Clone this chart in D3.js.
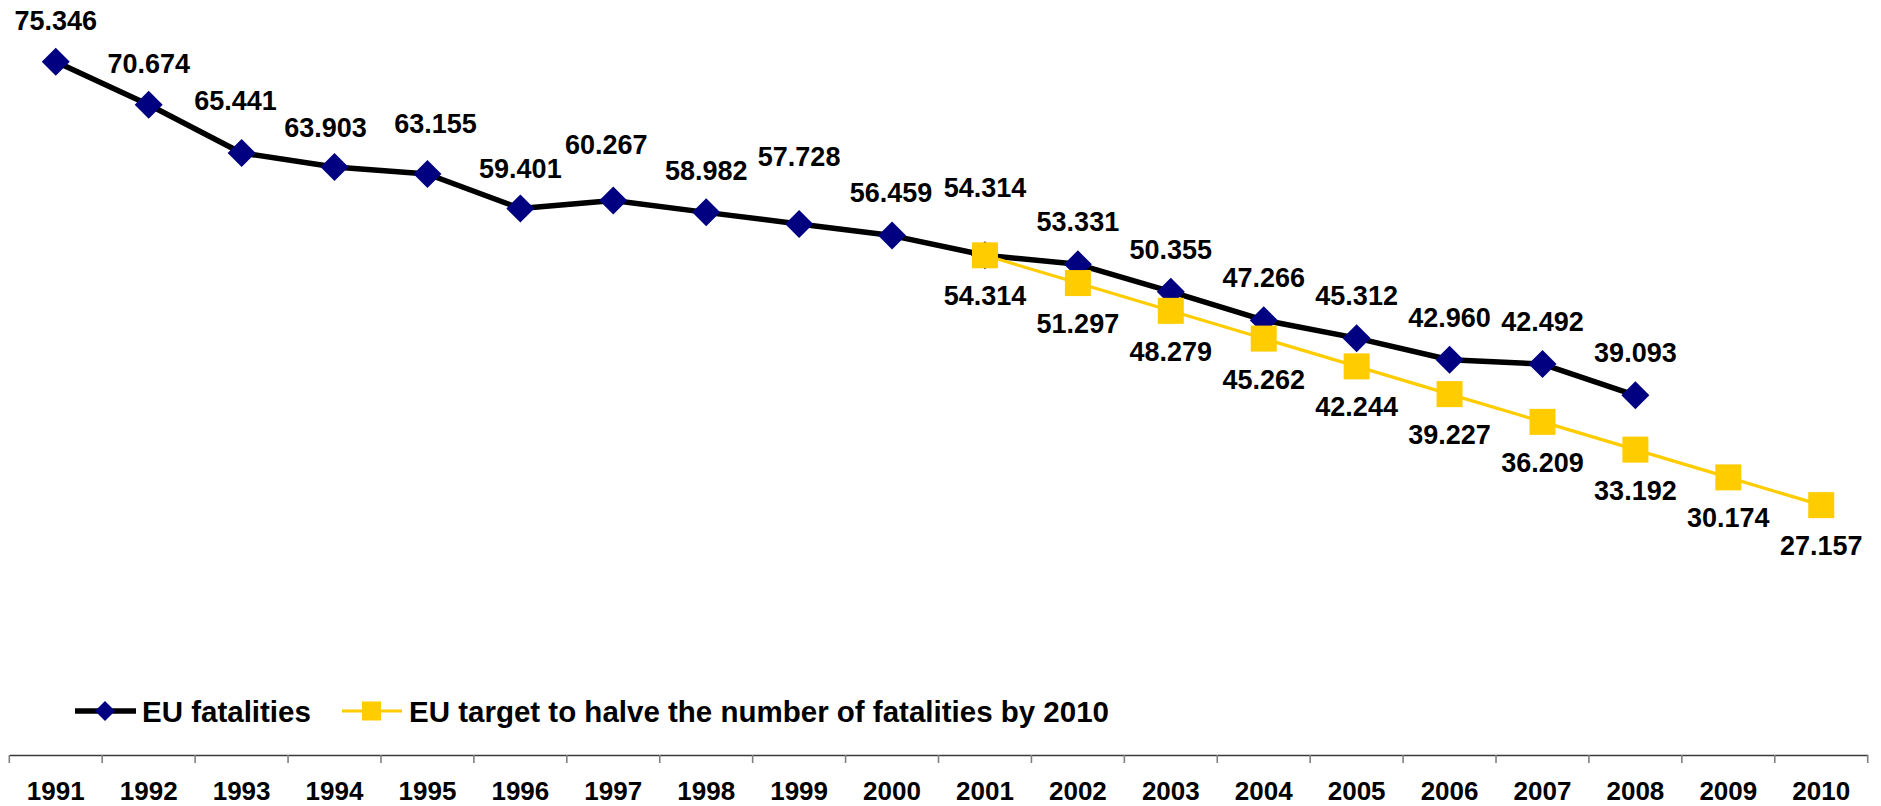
<!DOCTYPE html>
<html>
<head>
<meta charset="utf-8">
<script src="https://cdn.jsdelivr.net/npm/d3@7"></script>
<style>
  html, body { margin: 0; padding: 0; background: #fff; }
  svg { display: block; font-family: "Liberation Sans", Arial, sans-serif; }
</style>
</head>
<body>
<svg id="chart" width="1881" height="806"></svg>
<script>
// Road fatalities in the EU, 1991-2008, against the 2001-2010 halving target
const years = ["1991","1992","1993","1994","1995","1996","1997","1998","1999","2000",
               "2001","2002","2003","2004","2005","2006","2007","2008","2009","2010"];

const fatalities = [75346, 70674, 65441, 63903, 63155, 59401, 60267, 58982, 57728, 56459,
                    54314, 53331, 50355, 47266, 45312, 42960, 42492, 39093, null, null];

const target = [null, null, null, null, null, null, null, null, null, null,
                54314, 51297, 48279, 45262, 42244, 39227, 36209, 33192, 30174, 27157];

const seriesNames = ["EU fatalities", "EU target to halve the number of fatalities by 2010"];

// Label placement for the fatalities series: lift above the marker and sideways shift (px)
const fatalLabelLift  = [32, 32, 43, 30, 41, 31, 47, 32, 58, 34, 58, 33, 33, 33, 33, 33, 33, 33, 0, 0];
const fatalLabelShift = [0, 0, -6, -9, 8, 0, -7, 0, 0, -1, 0, 0, 0, 0, 0, 0, 0, 0, 0, 0];

const svg = d3.select("#chart");

const x = d3.scaleBand().domain(years).range([9.3, 1867.7]).padding(0);
const y = d3.scaleLinear().domain([0, 80000]).range([755, 19]);
const cx = yr => x(yr) + x.bandwidth() / 2;

const fmt = d3.formatLocale({ decimal: ",", thousands: ".", grouping: [3], currency: ["", ""] }).format(",");

// ---- category axis ----
const axisG = svg.append("g").attr("transform", `translate(0,${y(0)})`);
axisG.call(d3.axisBottom(x).tickSize(0).tickPadding(27).tickSizeOuter(0));
axisG.select(".domain").attr("stroke", "#3a3a3a").attr("stroke-width", 1.6);
axisG.selectAll(".tick text")
  .attr("fill", "#000").attr("font-size", 26).attr("font-weight", "bold")
  .attr("font-family", "'Liberation Sans', Arial, sans-serif");

// tick marks sit on the category boundaries
const bounds = years.map(yr => x(yr)).concat([x.range()[1]]);
axisG.selectAll("line.bound").data(bounds).join("line")
  .attr("class", "bound")
  .attr("x1", d => d).attr("x2", d => d)
  .attr("y1", 0).attr("y2", 8)
  .attr("stroke", "#808080").attr("stroke-width", 1.6);

// ---- lines ----
const fatalPts = years.map((yr, i) => ({ yr, v: fatalities[i], i })).filter(d => d.v != null);
const targetPts = years.map((yr, i) => ({ yr, v: target[i], i })).filter(d => d.v != null);

const line = d3.line().x(d => cx(d.yr)).y(d => y(d.v));

svg.append("path").datum(fatalPts)
  .attr("d", line).attr("fill", "none")
  .attr("stroke", "#000").attr("stroke-width", 5.5).attr("stroke-linejoin", "round");

const diamond = r => `M0,${-r}L${r},0L0,${r}L${-r},0Z`;

svg.append("g").selectAll("path").data(fatalPts).join("path")
  .attr("transform", d => `translate(${cx(d.yr)},${y(d.v)})`)
  .attr("d", diamond(14))
  .attr("fill", "#000080");

svg.append("path").datum(targetPts)
  .attr("d", line).attr("fill", "none")
  .attr("stroke", "#FFCC00").attr("stroke-width", 3.2).attr("stroke-linejoin", "round");

svg.append("g").selectAll("rect").data(targetPts).join("rect")
  .attr("x", d => cx(d.yr) - 13).attr("y", d => y(d.v) - 13)
  .attr("width", 26).attr("height", 26)
  .attr("fill", "#FFCC00");

// ---- value labels ----
svg.append("g").selectAll("text").data(fatalPts).join("text")
  .attr("x", d => cx(d.yr) + fatalLabelShift[d.i])
  .attr("y", d => y(d.v) - fatalLabelLift[d.i])
  .attr("text-anchor", "middle")
  .attr("font-size", 27).attr("font-weight", "bold").attr("fill", "#000")
  .text(d => fmt(d.v));

svg.append("g").selectAll("text").data(targetPts).join("text")
  .attr("x", d => cx(d.yr))
  .attr("y", d => y(d.v) + 50)
  .attr("text-anchor", "middle")
  .attr("font-size", 27).attr("font-weight", "bold").attr("fill", "#000")
  .text(d => fmt(d.v));

// ---- legend ----
const legend = svg.append("g").attr("transform", "translate(0,711)");

const lg1 = legend.append("g");
lg1.append("line").attr("x1", 75).attr("x2", 136).attr("y1", 0).attr("y2", 0)
  .attr("stroke", "#000").attr("stroke-width", 5.5);
lg1.append("path").attr("transform", "translate(105,0)").attr("d", diamond(10)).attr("fill", "#000080");
lg1.append("text").attr("x", 142).attr("y", 11).attr("font-size", 29.5).attr("font-weight", "bold")
  .attr("fill", "#000").text(seriesNames[0]);

const lg2 = legend.append("g");
lg2.append("line").attr("x1", 342).attr("x2", 402).attr("y1", 0).attr("y2", 0)
  .attr("stroke", "#FFCC00").attr("stroke-width", 3.2);
lg2.append("rect").attr("x", 362).attr("y", -9.5).attr("width", 19).attr("height", 19).attr("fill", "#FFCC00");
lg2.append("text").attr("x", 409).attr("y", 11).attr("font-size", 29.5).attr("font-weight", "bold")
  .attr("fill", "#000").text(seriesNames[1]);
</script>
</body>
</html>
